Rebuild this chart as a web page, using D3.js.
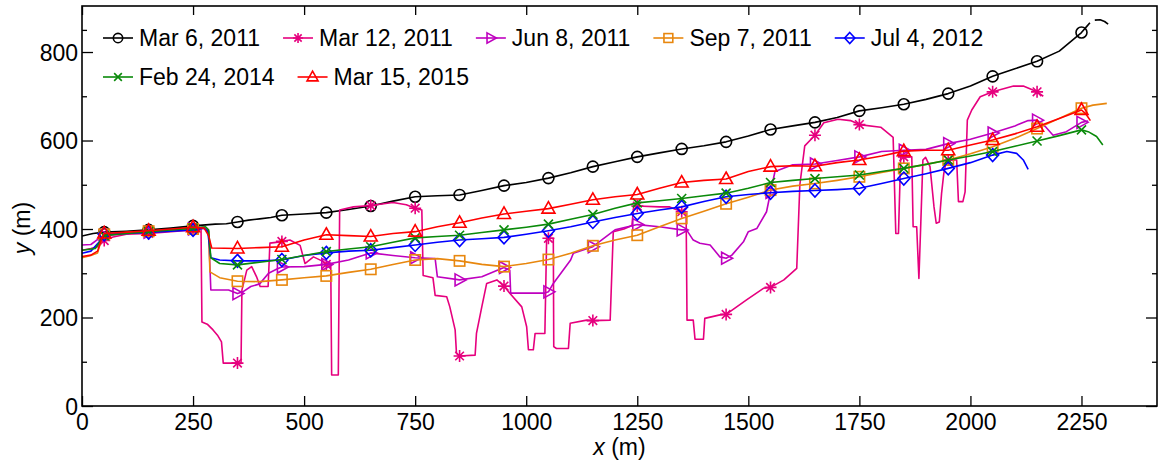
<!DOCTYPE html>
<html>
<head>
<meta charset="utf-8">
<script src="https://cdn.jsdelivr.net/npm/d3@7"></script>
<style>
  body { margin: 0; background: #fff; }
  text { font-family: "Liberation Sans", Arial, Helvetica, sans-serif; }
</style>
</head>
<body>
<svg id="chart" width="1160" height="463"></svg>
<script>
// profile data, [x (m), y (m)]
const mar6_2011 = [[0,384],[25,390],[50,393],[100,395],[150,398],[200,402],[250,407],[300,411],[325,412],[350,416],[375,420],[400,423],[425,426],[450,431],[500,434],[550,437],[600,444],[650,452],[700,463],[750,473],[800,475],[850,477],[900,487],[950,498],[1000,505],[1050,515],[1100,527],[1150,541],[1200,552],[1250,563],[1300,572],[1350,581],[1400,588],[1450,597],[1500,610],[1550,625],[1600,633],[1650,641],[1700,652],[1750,667],[1800,674],[1850,682],[1900,693],[1950,706],[2000,723],[2050,745],[2100,762],[2150,779],[2200,802],[2250,844],[2262,858],[2269,866],[2274,null],[2280,872],[2292,873],[2302,869],[2310,863]];

const mar12_2011 = [[0,352],[20,356],[35,360],[45,372],[50,374],[70,382],[100,388],[150,390],[200,394],[250,398],[262,402],[268,400],[270,190],[282,185],[295,172],[305,160],[314,145],[318,97],[350,97],[358,96],[360,262],[371,307],[382,315],[393,292],[401,270],[419,270],[423,368],[446,371],[450,372],[468,375],[491,363],[502,322],[521,337],[540,328],[550,320],[560,318],[562,70],[577,70],[580,443],[611,450],[650,453],[700,460],[730,455],[750,447],[765,443],[768,295],[790,290],[795,250],[821,247],[828,224],[840,172],[843,119],[850,113],[885,115],[888,164],[900,224],[911,277],[934,285],[950,271],[963,255],[990,224],[1001,179],[1005,127],[1016,127],[1020,164],[1042,164],[1046,379],[1050,379],[1061,379],[1062,134],[1068,130],[1095,130],[1099,187],[1136,194],[1150,193],[1189,194],[1196,394],[1220,400],[1238,408],[1242,452],[1250,452],[1300,450],[1323,450],[1350,439],[1360,435],[1362,194],[1376,194],[1380,151],[1399,151],[1402,198],[1436,206],[1450,207],[1496,240],[1534,266],[1550,268],[1580,285],[1609,311],[1616,500],[1627,588],[1650,612],[1670,640],[1702,648],[1730,645],[1750,636],[1798,630],[1826,607],[1832,390],[1838,390],[1843,563],[1850,563],[1868,563],[1871,405],[1879,405],[1884,288],[1888,405],[1893,556],[1899,562],[1909,541],[1918,450],[1923,413],[1930,416],[1935,480],[1940,525],[1946,556],[1950,556],[1969,556],[1973,462],[1983,462],[1988,484],[1993,646],[2003,669],[2022,699],[2050,710],[2097,723],[2119,723],[2150,710],[2164,700]];

const jun8_2011 = [[0,364],[20,365],[40,380],[50,385],[100,390],[150,393],[200,396],[250,400],[272,404],[285,395],[290,262],[330,262],[350,254],[362,258],[380,270],[400,276],[420,300],[440,310],[450,314],[500,315],[550,320],[600,330],[650,346],[700,340],[750,335],[795,333],[800,292],[850,285],[900,292],[935,307],[950,313],[963,307],[965,255],[1040,255],[1050,258],[1061,277],[1100,330],[1106,345],[1150,360],[1200,398],[1250,410],[1300,405],[1350,398],[1361,398],[1376,375],[1391,368],[1414,364],[1436,337],[1450,334],[1463,341],[1489,371],[1500,394],[1519,401],[1541,439],[1550,483],[1560,530],[1600,545],[1650,547],[1700,555],[1750,563],[1800,575],[1850,578],[1900,580],[1950,593],[2000,603],[2050,617],[2100,633],[2130,645],[2150,646],[2170,630],[2186,612],[2216,620],[2250,641],[2265,644]];

const sep7_2011 = [[0,335],[20,340],[35,346],[45,380],[50,388],[100,392],[150,395],[200,398],[250,400],[275,402],[285,395],[288,303],[310,290],[350,282],[400,281],[450,285],[500,290],[550,294],[600,302],[650,309],[700,320],[750,330],[800,333],[850,328],[900,320],[950,315],[1000,322],[1050,331],[1100,345],[1150,362],[1200,375],[1250,386],[1300,405],[1350,424],[1400,440],[1450,457],[1500,472],[1550,488],[1600,497],[1650,503],[1700,510],[1750,518],[1800,528],[1850,537],[1900,546],[1950,556],[2000,570],[2050,586],[2100,605],[2150,627],[2200,650],[2250,673],[2276,680],[2307,684]];

const jul4_2012 = [[0,345],[20,350],[40,372],[50,388],[100,390],[150,392],[200,395],[250,398],[275,402],[283,395],[290,335],[310,330],[350,328],[400,328],[450,330],[500,340],[550,346],[600,350],[650,352],[700,358],[750,364],[800,370],[850,375],[900,378],[950,381],[1000,388],[1050,396],[1100,405],[1150,416],[1200,426],[1250,435],[1300,443],[1350,450],[1400,462],[1450,473],[1500,478],[1550,482],[1600,485],[1650,487],[1700,489],[1750,492],[1800,503],[1850,514],[1900,525],[1950,537],[2000,550],[2050,567],[2082,575],[2104,571],[2119,556],[2130,535]];

const feb24_2014 = [[0,352],[30,356],[45,378],[50,385],[100,390],[150,394],[200,398],[250,402],[278,405],[285,398],[290,335],[310,322],[350,319],[400,325],[450,331],[500,340],[550,349],[600,355],[650,360],[700,370],[750,380],[800,383],[850,386],[900,392],[950,398],[1000,404],[1050,411],[1100,422],[1150,433],[1200,447],[1250,459],[1300,464],[1350,469],[1400,475],[1450,481],[1500,492],[1550,505],[1600,510],[1650,514],[1700,518],[1750,522],[1800,530],[1850,537],[1900,546],[1950,556],[2000,565],[2050,575],[2100,587],[2150,599],[2200,611],[2250,624],[2265,620],[2284,609],[2298,590]];

const mar15_2015 = [[0,338],[20,341],[35,350],[45,380],[50,390],[100,393],[150,396],[200,400],[250,404],[275,402],[285,385],[292,357],[350,356],[400,358],[450,360],[500,375],[550,387],[600,385],[650,383],[700,390],[750,394],[800,405],[850,414],[900,425],[950,434],[1000,440],[1050,446],[1100,456],[1150,466],[1200,473],[1250,478],[1300,492],[1350,505],[1400,510],[1450,513],[1500,530],[1550,541],[1600,543],[1650,542],[1700,550],[1750,556],[1800,565],[1850,576],[1900,578],[1950,578],[2000,590],[2050,601],[2100,615],[2150,631],[2200,650],[2250,669],[2260,660],[2270,645]];

const seriesNames = ["Mar 6, 2011", "Mar 12, 2011", "Jun 8, 2011", "Sep 7, 2011", "Jul 4, 2012", "Feb 24, 2014", "Mar 15, 2015"];
const seriesData = [mar6_2011, mar12_2011, jun8_2011, sep7_2011, jul4_2012, feb24_2014, mar15_2015];
const seriesColors = ["#000000", "#e6007e", "#bf00bf", "#e8870e", "#0000ff", "#0a8a0a", "#ff0000"];
const seriesMarkers = ["circle", "asterisk", "triRight", "square", "diamond", "cross", "triUp"];

// markers every 100 m, starting at 50 m
const markerX = d3.range(50, 2300, 100);
const xTicks = d3.range(0, 2251, 250);
const yTicks = [0, 200, 400, 600, 800];
const yMinorTicks = [100, 300, 500, 700, 850];

const width = 1160, height = 463;
const margin = {left: 82, right: 3, top: 6, bottom: 57};
const svg = d3.select("#chart");

const x = d3.scaleLinear().domain([0, 2420]).range([margin.left, width - margin.right]);
const y = d3.scaleLinear().domain([0, 904]).range([height - margin.bottom, margin.top]);

const plotW = x.range()[1] - x.range()[0];
const plotH = y.range()[0] - y.range()[1];

svg.append("defs").append("clipPath").attr("id", "clip")
  .append("rect").attr("x", x.range()[0]).attr("y", y.range()[1])
  .attr("width", plotW).attr("height", plotH);

const markerPaths = {
  asterisk: "M-6,0H6M0,-6V6M-4.3,-4.3L4.3,4.3M-4.3,4.3L4.3,-4.3",
  triRight: "M-4.5,-6L6.5,0L-4.5,6Z",
  diamond: "M0,-6.5L6,0L0,6.5L-6,0Z",
  cross: "M-4.5,-4.5L4.5,4.5M-4.5,4.5L4.5,-4.5",
  triUp: "M0,-7L6.5,4.5L-6.5,4.5Z"
};

function drawMarker(g, type, cx, cy, color, scale) {
  if (type === "circle") {
    g.append("circle").attr("cx", cx).attr("cy", cy).attr("r", 5.5 * scale)
      .attr("fill", "none").attr("stroke", color).attr("stroke-width", 1.6);
  } else if (type === "square") {
    const s = 5.2 * scale;
    g.append("rect").attr("x", cx - s).attr("y", cy - s).attr("width", 2 * s).attr("height", 2 * s)
      .attr("fill", "none").attr("stroke", color).attr("stroke-width", 1.6);
  } else {
    g.append("path").attr("d", markerPaths[type])
      .attr("transform", `translate(${cx},${cy}) scale(${scale})`)
      .attr("fill", "none").attr("stroke", color).attr("stroke-width", 1.6 / scale);
  }
}

const line = d3.line().defined(d => d[1] !== null).x(d => x(d[0])).y(d => y(d[1]));
const plot = svg.append("g").attr("clip-path", "url(#clip)");

seriesData.forEach((data, i) => {
  const g = plot.append("g");
  g.append("path").datum(data).attr("d", line)
    .attr("fill", "none").attr("stroke", seriesColors[i])
    .attr("stroke-width", 1.6).attr("stroke-linejoin", "round");
  data.filter(d => markerX.includes(d[0])).forEach(d => {
    drawMarker(g, seriesMarkers[i], x(d[0]), y(d[1]), seriesColors[i], 1);
  });
});

// axes: ticks point inward, box drawn separately
const fontSize = 23;
const fmt = d3.format("d");
const bottom = svg.append("g").attr("transform", `translate(0,${y.range()[0]})`)
  .call(d3.axisBottom(x).tickValues(xTicks).tickFormat(fmt).tickSizeInner(-10).tickSizeOuter(0).tickPadding(8));
const left = svg.append("g").attr("transform", `translate(${x.range()[0]},0)`)
  .call(d3.axisLeft(y).tickValues(yTicks).tickFormat(fmt).tickSizeInner(-11).tickSizeOuter(0).tickPadding(4));
svg.append("g").attr("transform", `translate(0,${y.range()[1]})`)
  .call(d3.axisTop(x).tickValues(xTicks).tickSizeInner(-9).tickSizeOuter(0).tickFormat(""));
svg.append("g").attr("transform", `translate(${x.range()[1]},0)`)
  .call(d3.axisRight(y).tickValues(yTicks).tickSizeInner(-11).tickSizeOuter(0).tickFormat(""));
svg.append("g").attr("transform", `translate(${x.range()[0]},0)`)
  .call(d3.axisLeft(y).tickValues(yMinorTicks).tickSizeInner(-5).tickSizeOuter(0).tickFormat(""));
svg.append("g").attr("transform", `translate(${x.range()[1]},0)`)
  .call(d3.axisRight(y).tickValues(yMinorTicks).tickSizeInner(-5).tickSizeOuter(0).tickFormat(""));

svg.selectAll(".domain").remove();
svg.selectAll(".tick line").attr("stroke", "#000").attr("stroke-width", 1.3);
svg.selectAll(".tick text").attr("fill", "#000");
[bottom, left].forEach(a => a.attr("font-size", fontSize).attr("font-family", '"Liberation Sans", Arial, sans-serif'));
left.selectAll(".tick text").attr("dy", "0.35em");

svg.append("rect").attr("x", x.range()[0]).attr("y", y.range()[1])
  .attr("width", plotW).attr("height", plotH)
  .attr("fill", "none").attr("stroke", "#000").attr("stroke-width", 1.6);

// axis titles
const xTitle = svg.append("text").attr("x", (x.range()[0] + x.range()[1]) / 2).attr("y", 455)
  .attr("text-anchor", "middle").attr("font-size", fontSize);
xTitle.append("tspan").attr("font-style", "italic").text("x");
xTitle.append("tspan").text(" (m)");

const yTitle = svg.append("text").attr("transform", "translate(30,228) rotate(-90)")
  .attr("text-anchor", "middle").attr("font-size", fontSize);
yTitle.append("tspan").attr("font-style", "italic").text("y");
yTitle.append("tspan").text(" (m)");

// legend, two rows, items flow left to right
const legendRows = [[0, 1, 2, 3, 4], [5, 6]];
const rowY = [38, 77];
const legend = svg.append("g");
legendRows.forEach((row, r) => {
  let cx = 103;
  row.forEach(i => {
    const g = legend.append("g");
    g.append("line").attr("x1", cx).attr("x2", cx + 30).attr("y1", rowY[r]).attr("y2", rowY[r])
      .attr("stroke", seriesColors[i]).attr("stroke-width", 1.6);
    drawMarker(g, seriesMarkers[i], cx + 15, rowY[r], seriesColors[i], 0.85);
    const t = g.append("text").attr("x", cx + 36).attr("y", rowY[r]).attr("dy", "0.35em")
      .attr("font-size", fontSize).attr("fill", "#000").text(seriesNames[i]);
    cx += 36 + t.node().getComputedTextLength() + 23;
  });
});
</script>
</body>
</html>
